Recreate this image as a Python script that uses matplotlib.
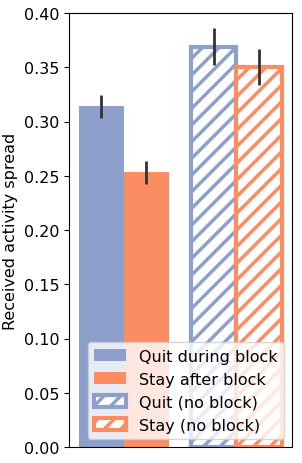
import matplotlib
matplotlib.use("Agg")
import matplotlib.pyplot as plt
import numpy as np

labels = ["Quit during block", "Stay after block", "Quit (no block)", "Stay (no block)"]
values = [0.314, 0.253, 0.369, 0.350]
errors = [0.0107, 0.0105, 0.0172, 0.0165]
colors = ["#8DA0CB", "#FC8D62", "#8DA0CB", "#FC8D62"]
hatched = [False, False, True, True]
positions = [-0.2, 0.2, 0.8, 1.2]

plt.rcParams['hatch.linewidth'] = 2.5
fig = plt.figure(figsize=(3.02, 4.64), dpi=100)
ax = fig.add_axes([69/302, 16/464, (292-69)/302, (448-14)/464])

for p, v, e, c, h, lab in zip(positions, values, errors, colors, hatched, labels):
    if h:
        ax.bar(p, v, width=0.4, facecolor="white", edgecolor=c, hatch="//",
               linewidth=3, label=lab)
    else:
        ax.bar(p, v, width=0.4, color=c, label=lab)
    ax.errorbar(p, v, yerr=e, color="#333333", linewidth=2, capsize=0, fmt="none")

ax.set_ylim(0, 0.40)
ax.set_xlim(-0.487, 1.493)
ax.set_xticks([])
ax.set_yticks(np.arange(0, 0.401, 0.05))
ax.set_yticklabels([f"{t:.2f}" for t in np.arange(0, 0.401, 0.05)], fontsize=11.5)
ax.set_ylabel("Received activity spread", fontsize=11.5)
ax.legend(loc="lower right", fontsize=11.5, handlelength=2.0)

fig.savefig("out.png", dpi=100)
